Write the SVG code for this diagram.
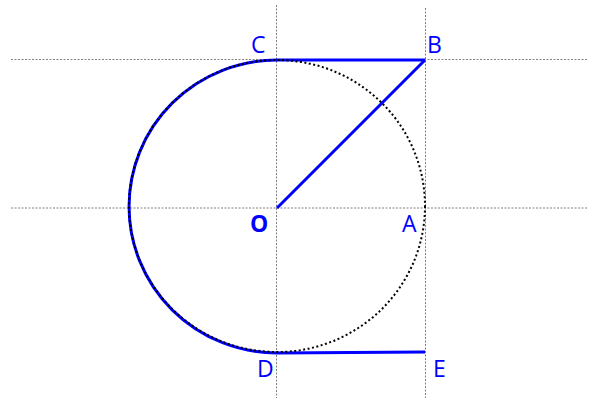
<svg xmlns="http://www.w3.org/2000/svg" width="592" height="398" viewBox="0 0 592 398">
<style>
.guide{stroke:#808080;stroke-width:1;stroke-dasharray:2 1.5;fill:none}
.dot{stroke:#000;stroke-width:2;stroke-dasharray:2 2.5;fill:none}
.blue{stroke:#0000ff;stroke-width:3;fill:none;stroke-linecap:butt}
.lbl{font-family:"Open Sans","Liberation Sans",sans-serif;font-size:23px;fill:#0000ff}
</style>
<rect width="592" height="398" fill="#fff"/>
<g id="guides">
<line class="guide" x1="11" y1="59.5" x2="587" y2="59.5"/>
<line class="guide" x1="11" y1="208" x2="587" y2="208"/>
<line class="guide" x1="276.5" y1="5" x2="276.5" y2="398"/>
<line class="guide" x1="425.5" y1="8" x2="425.5" y2="398"/>
</g>
<g id="connectors">
<path class="blue" d="M425,60 L277,60 A148,146.5 0 0 0 277,353 L425,352"/>
<line class="blue" x1="277" y1="208" x2="425" y2="60"/>
</g>
<g id="circle">
<ellipse class="dot" cx="277" cy="206" rx="148" ry="146" stroke-width="1.6"/>
</g>
<g id="node-C"><text class="lbl" x="251" y="53">C</text></g>
<g id="node-B"><text class="lbl" x="427" y="53">B</text></g>
<g id="node-O"><text class="lbl" x="250" y="232" font-weight="bold">O</text></g>
<g id="node-A"><text class="lbl" x="402" y="232">A</text></g>
<g id="node-D"><text class="lbl" x="257" y="377">D</text></g>
<g id="node-E"><text class="lbl" x="433" y="377">E</text></g>
</svg>
